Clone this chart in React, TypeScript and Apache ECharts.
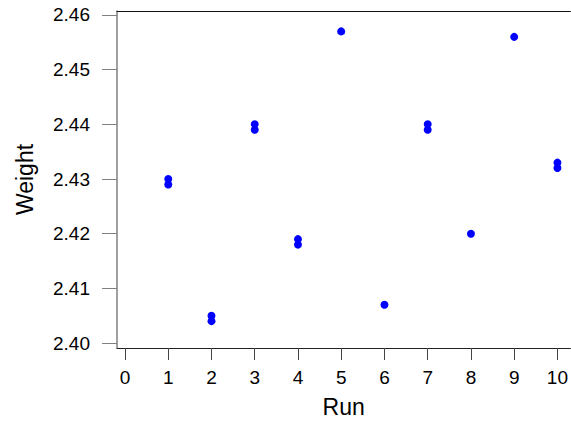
import React, { useEffect, useRef } from "react";
import * as echarts from "echarts";

const runs = [1, 1, 2, 2, 3, 3, 4, 4, 5, 6, 7, 7, 8, 9, 10, 10];
const weights = [
  2.43, 2.429, 2.405, 2.404, 2.44, 2.439, 2.419, 2.418, 2.457, 2.407, 2.44,
  2.439, 2.42, 2.456, 2.433, 2.432,
];
const xTicks = [0, 1, 2, 3, 4, 5, 6, 7, 8, 9, 10];
const yTicks = [2.4, 2.41, 2.42, 2.43, 2.44, 2.45, 2.46];
const xLabel = "Run";
const yLabel = "Weight";

const FONT = "'Liberation Sans', Arial, sans-serif";

export default function App() {
  const ref = useRef<HTMLDivElement>(null);
  useEffect(() => {
    if (!ref.current) return;
    const chart = echarts.init(ref.current, null, { renderer: "svg" });
    const points = runs.map((r, i) => [r, weights[i]]);
    chart.setOption({
      animation: false,
      backgroundColor: "#ffffff",
      grid: { left: 117, top: 11, right: 0, bottom: 72 },
      xAxis: [
        {
          type: "value",
          min: -0.185,
          max: 10.3,
          name: xLabel,
          nameLocation: "middle",
          nameGap: 47,
          nameTextStyle: { fontFamily: FONT, fontSize: 23, color: "#000" },
          axisLine: { show: true, onZero: false, lineStyle: { color: "#222", width: 1 } },
          axisTick: {
            show: true,
            inside: false,
            length: 12,
            customValues: xTicks,
            lineStyle: { color: "#444" },
          },
          axisLabel: {
            customValues: xTicks,
            margin: 20,
            fontFamily: FONT,
            fontSize: 19,
            color: "#000",
            formatter: (v: number) => String(Math.round(v)),
          },
          splitLine: { show: false },
        },
        {
          type: "value",
          position: "top",
          min: -0.185,
          max: 10.3,
          axisLine: { show: true, onZero: false, lineStyle: { color: "#111", width: 1 } },
          axisTick: { show: false },
          axisLabel: { show: false },
          splitLine: { show: false },
        },
      ],
      yAxis: {
        type: "value",
        min: 2.39909,
        max: 2.46073,
        name: yLabel,
        nameLocation: "middle",
        nameRotate: 90,
        nameGap: 81,
        nameTextStyle: { fontFamily: FONT, fontSize: 23, color: "#000" },
        axisLine: { show: true, onZero: false, lineStyle: { color: "#808080", width: 1.5 } },
        axisTick: {
          show: true,
          inside: false,
          length: 15,
          customValues: yTicks,
          lineStyle: { color: "#808080" },
        },
        axisLabel: {
          customValues: yTicks,
          margin: 27,
          fontFamily: FONT,
          fontSize: 19,
          color: "#000",
          formatter: (v: number) => v.toFixed(2),
        },
        splitLine: { show: false },
      },
      series: [
        {
          type: "scatter",
          data: points,
          symbol: "circle",
          symbolSize: 8,
          itemStyle: { color: "#0000ff", opacity: 1 },
        },
      ],
    });
    return () => chart.dispose();
  }, []);
  return (
    <div
      ref={ref}
      style={{ position: "fixed", left: 0, top: 0, width: 571, height: 423 }}
    />
  );
}
